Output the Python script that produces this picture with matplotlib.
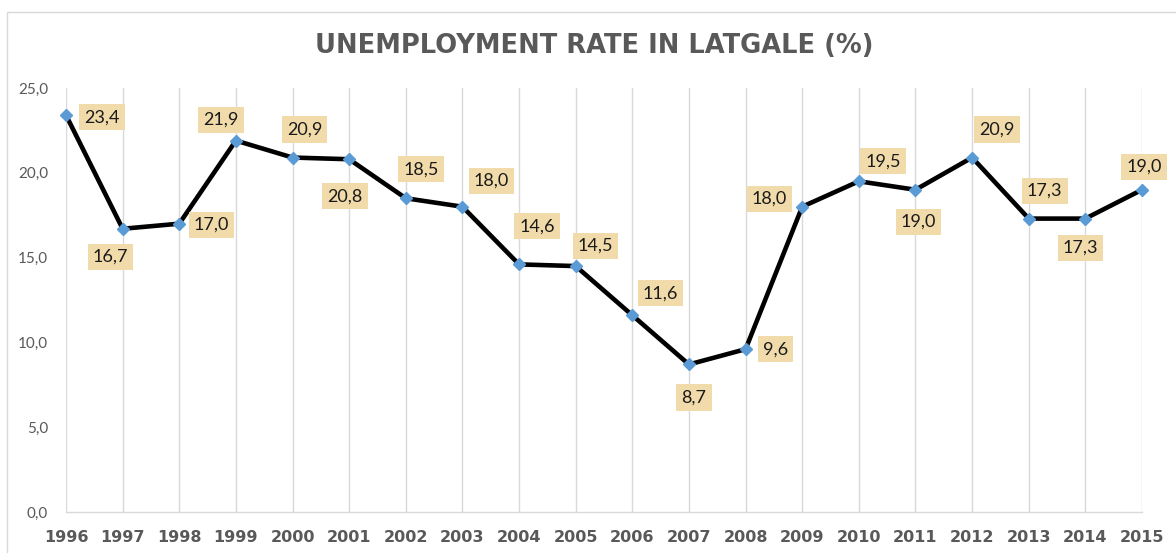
import matplotlib
matplotlib.use("Agg")
import matplotlib.pyplot as plt
from matplotlib.patches import Rectangle

years = [1996, 1997, 1998, 1999, 2000, 2001, 2002, 2003, 2004, 2005,
         2006, 2007, 2008, 2009, 2010, 2011, 2012, 2013, 2014, 2015]
rates = [23.4, 16.7, 17.0, 21.9, 20.9, 20.8, 18.5, 18.0, 14.6, 14.5,
         11.6, 8.7, 9.6, 18.0, 19.5, 19.0, 20.9, 17.3, 17.3, 19.0]
y_ticks = [0, 5, 10, 15, 20, 25]
title = "UNEMPLOYMENT RATE IN LATGALE (%)"

# label offsets in pixels (dx right, dy up) -- layout only
label_offsets = [(36, -2), (-12, -28), (32, -1), (-15, 21), (12, 28),
                 (-4, -37), (15, 29), (29, 26), (18, 38), (20, 20),
                 (28, 22), (5, -33), (30, 0), (-33, 8), (24, 20),
                 (3, -32), (25, 28), (16, 28), (-5, -29), (2, 23)]

W, H = 1176, 553
fig = plt.figure(figsize=(W / 100, H / 100), dpi=100)
fig.patch.set_facecolor("white")

# outer chart frame
fig.patches.append(Rectangle((7 / W, -0.1), 1.2, (H - 12) / H + 0.1,
                             transform=fig.transFigure, fill=False,
                             edgecolor="#d9d9d9", linewidth=1.0))

x0, x1 = 66, 1142
yb, yt = 512, 88
ax = fig.add_axes([x0 / W, (H - yb) / H, (x1 - x0) / W, (yb - yt) / H])
ax.set_xlim(years[0], years[-1])
ax.set_ylim(0, 25)
ax.set_facecolor("none")
for s in ["left", "right", "top"]:
    ax.spines[s].set_visible(False)
ax.spines["bottom"].set_color("#d9d9d9")
ax.spines["bottom"].set_linewidth(1.0)
ax.set_xticks(years)
ax.set_xticklabels([str(y) for y in years], fontfamily="DejaVu Sans",
                   fontweight="bold", fontsize=11.5, color="#595959")
ax.set_yticks(y_ticks)
ax.set_yticklabels([f"{v:.1f}".replace(".", ",") for v in y_ticks],
                   fontfamily="Lato", fontsize=11, color="#595959")
ax.tick_params(axis="both", length=0)
ax.tick_params(axis="y", pad=13)
ax.tick_params(axis="x", pad=13)
ax.grid(axis="x", color="#d9d9d9", linewidth=1.0)
ax.set_axisbelow(True)

ax.plot(years, rates, color="black", linewidth=3.3, zorder=3,
        marker="D", markersize=6.5, markerfacecolor="#5B9BD5",
        markeredgecolor="#5B9BD5", clip_on=False)

for yr, v, (dx, dy) in zip(years, rates, label_offsets):
    ax.annotate(f"{v:.1f}".replace(".", ","), xy=(yr, v),
                xytext=(dx * 0.72, dy * 0.72), textcoords="offset points",
                ha="center", va="center", fontfamily="Lato", fontsize=13,
                color="#1a1a1a", zorder=5,
                bbox=dict(boxstyle="square,pad=0.28", facecolor="#F1DBAA",
                          edgecolor="none"))

fig.text(594 / W, 1 - 46 / H, title, ha="center", va="center",
         fontfamily="DejaVu Sans", fontweight="bold", fontsize=18.5,
         color="#595959")

fig.savefig("out.png", dpi=100)
